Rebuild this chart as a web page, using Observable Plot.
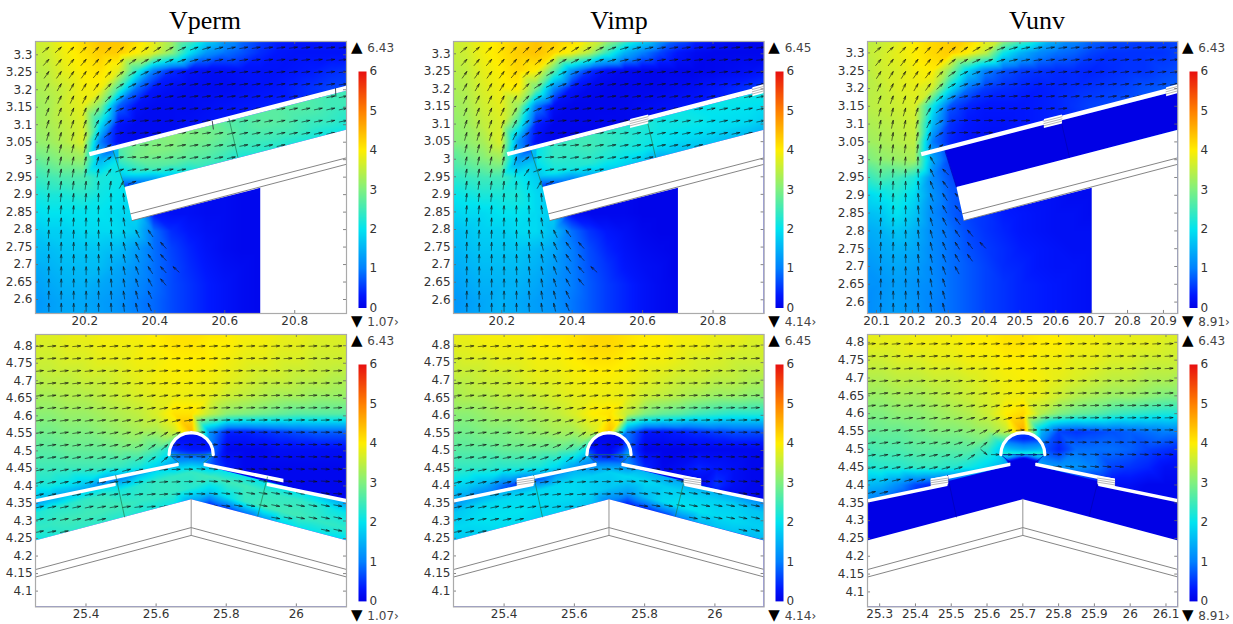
<!DOCTYPE html>
<html><head><meta charset="utf-8">
<script src="https://cdn.jsdelivr.net/npm/d3@7"></script>
<script src="https://cdn.jsdelivr.net/npm/@observablehq/plot@0.6"></script>
<style>
html,body{margin:0;padding:0;background:#fff}
#page{position:relative;width:1233px;height:624px;overflow:hidden}
#page>svg{position:absolute;background:transparent;overflow:visible}
.t{position:absolute;font-family:"Liberation Serif",serif;font-size:26px;color:#000;transform:translateX(-50%);line-height:30px}
.m{position:absolute;font-family:"DejaVu Sans",sans-serif;font-size:12px;color:#444;white-space:nowrap;line-height:14px}
.m b{font-weight:normal;color:#000;font-size:15px;margin-right:1px}
</style></head><body><div id="page"></div>
<script>
const n = null;
const titles = ["Vperm","Vimp","Vunv"];
const maxLabels = [["6.43","1.07"],["6.45","4.14"],["6.43","8.91"],["6.43","1.07"],["6.45","4.14"],["6.43","8.91"]];
const colorStops = [0,0.33,1,2,3,4,5,6];
const colorRange = ["#0000e6","#0018ff","#0080ff","#00e4f0","#80f080","#ffee00","#ff8000","#e81010"];
const barTicks = [0,1,2,3,4,5,6];
const topYTicks = [3.3,3.25,3.2,3.15,3.1,3.05,3,2.95,2.9,2.85,2.8,2.75,2.7,2.65,2.6];
const lowYTicks = [4.8,4.75,4.7,4.65,4.6,4.55,4.5,4.45,4.4,4.35,4.3,4.25,4.2,4.15,4.1];
const xTicks2 = [20.2,20.4,20.6,20.8];
const xTicks1 = [20.1,20.2,20.3,20.4,20.5,20.6,20.7,20.8,20.9];
const xTicksL2 = [25.4,25.6,25.8,26];
const xTicksL1 = [25.3,25.4,25.5,25.6,25.7,25.8,25.9,26,26.1];

// outer air speed, top row views
const topXs = [20.05,20.1,20.15,20.2,20.25,20.3,20.35,20.4,20.45,20.5,20.55,20.6,20.65,20.7,20.75,20.8,20.85,20.9,20.95];
const topYs = [3.35,3.3,3.25,3.2,3.15,3.1,3.05,3,2.95,2.9,2.85,2.8,2.75,2.7,2.65,2.6,2.55];
const vpermTop = [
[3.7,3.7,4,4.2,4.4,4.4,4.2,3.9,3.4,2.8,2.1,1.4,.9,.6,.4,.3,.3,.3,.3],
[3.5,3.6,3.9,4.1,4.3,4.3,4,3.7,3.1,2,1.2,.9,.7,.45,.3,.25,.25,.25,.25],
[3.4,3.5,3.8,4,4.1,3.8,2.4,1,.45,.25,.2,.2,.25,.25,.25,.3,.35,.45,.5],
[3.3,3.4,3.6,3.9,3.9,2.6,.9,.3,.2,.15,.15,.15,.2,.25,.3,.4,.5,.6,.6],
[3.2,3.3,3.6,3.8,3,.8,.25,.15,.15,.15,.2,.25,.3,.35,.4,.4,.4,.4,.4],
[3.2,3.3,3.5,3.7,2,.3,.15,.15,.15,.2,.25,.3,.3,.3,.3,.3,.3,.3,.3],
[3.1,3.2,3.4,3.7,1,.2,.15,.15,.2,.2,.2,.2,.2],
[2.7,2.9,3.1,3.2,1.5,2,2,2,2],
[2.4,2.5,2.6,2.6,2.2,2.1,2,2],
[2.1,2.2,2.2,2.3,2.1,2,1.9,.2,.2,.2,.15,.15,.1,.1,.1],
[1.9,2,2,2,2,1.9,1.9,.3,.2,.2,.15,.15,.1,.1,.1],
[1.7,1.8,1.8,1.9,1.9,1.9,1.7,.9,.45,.3,.2,.15,.1,.1,.1],
[1.6,1.6,1.7,1.7,1.7,1.6,1.3,.9,.6,.4,.25,.15,.1,.1,.1],
[1.4,1.5,1.6,1.6,1.6,1.4,1.2,.9,.65,.45,.3,.2,.15,.1,.1],
[1.3,1.4,1.5,1.5,1.4,1.3,1.1,.9,.65,.5,.35,.25,.15,.1,.1],
[1.2,1.3,1.4,1.4,1.3,1.2,1,.85,.65,.5,.35,.25,.15,.1,.1],
[1.2,1.3,1.4,1.4,1.3,1.2,1,.85,.65,.5,.35,.25,.15,.1,.1]];
const vimpTop = [
[3.7,3.7,3.9,4.1,4.2,4.4,4.4,4.3,4,3.6,3,2.3,1.5,.9,.5,.3,.15,.1,.1],
[3.5,3.6,3.9,4.1,4.3,4.4,4.2,3.9,3.4,2.4,1.5,1,.6,.3,.15,.1,.1,.1,.1],
[3.4,3.5,3.8,4,4.2,4,2.7,1.2,.5,.2,.12,.08,.08,.08,.08,.1,.15,.2,.3],
[3.3,3.4,3.7,3.9,4,2.9,1.1,.3,.12,.08,.08,.08,.1,.15,.2,.3,.4,.5,.6],
[3.2,3.3,3.6,3.8,3.2,1,.2,.08,.08,.08,.1,.15,.2,.25,.3,.4,.4,.4,.4],
[3.1,3.2,3.5,3.7,2.4,.4,.08,.08,.08,.1,.1,.15,.2,.2,.2,.2,.2,.2,.2],
[3,3.1,3.3,3.7,1.2,.2,.08,.05,.05,.05,.1,.1,.1],
[2.6,2.8,3,3.2,1.3,1.6,1.6,1.5,1.5],
[2.3,2.4,2.5,2.5,2.1,1.8,1.6,1.6],
[2,2.1,2.2,2.2,2.2,1.9,1.7,.1,.1,.1,.1,.05,.05,.05,.05],
[1.8,1.9,1.9,2,2,1.9,1.8,.2,.1,.1,.1,.05,.05,.05,.05],
[1.6,1.7,1.8,1.8,1.9,1.9,1.6,.9,.5,.3,.2,.1,.05,.05,.05],
[1.5,1.6,1.7,1.7,1.7,1.6,1.4,1,.65,.4,.25,.15,.1,.05,.05],
[1.4,1.5,1.6,1.6,1.6,1.5,1.3,1,.7,.5,.3,.2,.15,.05,.05],
[1.3,1.4,1.5,1.5,1.5,1.4,1.2,1,.75,.55,.4,.25,.15,.08,.05],
[1.2,1.3,1.4,1.5,1.4,1.3,1.2,.95,.75,.55,.4,.25,.15,.08,.05],
[1.2,1.3,1.4,1.5,1.4,1.3,1.2,.95,.75,.55,.4,.25,.15,.08,.05]];
const vunvTop = [
[3.5,3.5,3.7,4,4.2,4.3,4.3,4,3.7,3.1,2.4,1.7,1.2,.9,.7,.7,.6,.6,.6],
[3.5,3.6,3.8,4,4.2,4.3,4,3.5,2.1,1.5,1.1,.9,.8,.6,.5,.5,.5,.5,.6],
[3.4,3.6,3.7,3.9,4,3.1,1.8,1,.7,.55,.5,.45,.45,.4,.45,.5,.5,.6,.65],
[3.4,3.5,3.7,3.8,3.6,2,.9,.55,.45,.4,.35,.4,.45,.5,.55,.6,.7,.75,.8],
[3.4,3.5,3.6,3.7,2.1,.7,.4,.3,.3,.3,.35,.4,.5,.6,.65,.7,.75,.8,.8],
[3.3,3.4,3.5,3.6,1.6,.5,.3,.25,.25,.3,.35,.4,.45,.5,.6,.6,.7,.7,.7],
[3.2,3.3,3.4,3.5,1,.4,.25,.2,.2,.2,.25,.3,.3],
[2.9,3.1,3.2,3.3,1.4,.6,.3,.2,.15],
[2.3,2.6,2.5,2.2,1.1,.7,.5,.3],
[1.8,2,2.2,1.9,1.2,.8,.6,.4,.3,.2,.2,.2,.15,.15,.15],
[1.6,1.7,2,1.7,1.1,.8,.6,.5,.35,.3,.25,.2,.2,.15,.15],
[1.4,1.5,1.7,1.5,1.1,.9,.65,.5,.4,.3,.25,.2,.2,.2,.2],
[1.3,1.4,1.5,1.4,1.1,.9,.7,.55,.45,.35,.3,.25,.2,.2,.2],
[1.2,1.3,1.4,1.3,1.1,.9,.75,.6,.45,.4,.3,.25,.25,.2,.2],
[1.2,1.2,1.3,1.2,1.1,.9,.75,.6,.5,.4,.35,.3,.25,.2,.2],
[1.1,1.2,1.3,1.2,1.05,.9,.75,.6,.5,.4,.35,.3,.25,.2,.2],
[1.1,1.2,1.3,1.2,1.05,.9,.75,.6,.5,.4,.35,.3,.25,.2,.2]];

// flow between deck and roof, top row views: rows run from the roof up to the deck
const cavTopXs = [20.3,20.35,20.4,20.45,20.5,20.55,20.6,20.65,20.7,20.75,20.8,20.85,20.9,20.95];
const cavFracs = [-.1,.3,.7,1.05];
const vpermCavT = [
[.2,.3,.8,1.5,2,2.3,2.3,2.1,2.2,2.2,2.1,2.1,2,2],
[1.6,2.2,2.6,2.7,2.7,2.7,2.6,2.5,2.5,2.5,2.5,2.4,2.4,2.3],
[2.4,2.9,3,3,2.9,2.9,2.8,2.6,2.7,2.7,2.6,2.6,2.5,2.5],
[2.6,2.9,3,3.1,3,2.9,2.7,2.6,2.7,2.7,2.7,2.6,2.5,2.5]];
const vimpCavT = [
[.2,.2,.6,1.2,1.6,1.7,1.6,1.3,1.5,1.6,1.6,1.5,1.5,1.4],
[1.6,2.1,2.2,2.3,2.2,2.1,2.1,2,1.9,1.9,1.9,1.9,1.9,1.8],
[2,2.4,2.4,2.5,2.4,2.3,2.2,2.1,2.1,2.1,2,2,2,2],
[2,2.4,2.5,2.5,2.4,2.3,2.3,2.1,2.1,2,2.1,2.1,2.1,2.2]];
const vunvCavT = [
[0,0,0,0,0,0,0,0,0,0,0,0,0,0],[0,0,0,0,0,0,0,0,0,0,0,0,0,0],
[0,0,0,0,0,0,0,0,0,0,0,0,0,0],[0,0,0,0,0,0,0,0,0,0,0,0,0,0]];

// outer air speed, bottom row views
const lowXs = [25.25,25.3,25.35,25.4,25.45,25.5,25.55,25.6,25.65,25.7,25.75,25.8,25.85,25.9,25.95,26,26.05,26.1,26.15];
const lowYs = [4.85,4.8,4.75,4.7,4.65,4.6,4.55,4.5,4.45,4.4,4.35,4.3];
const vpermLow = [
[3.7,3.8,3.8,3.9,3.9,3.9,4,4,4.1,4.1,4.1,4,4,3.9,3.9,3.8,3.8,3.7,3.7],
[3.7,3.7,3.8,3.8,3.9,3.9,3.9,4,4.1,4.1,4,4,3.9,3.9,3.8,3.8,3.7,3.7,3.7],
[3.6,3.6,3.7,3.7,3.8,3.8,3.9,3.9,4,4,4,3.9,3.8,3.8,3.7,3.7,3.6,3.6,3.6],
[3.4,3.5,3.5,3.6,3.6,3.7,3.8,3.9,3.95,3.95,3.9,3.8,3.7,3.6,3.6,3.5,3.5,3.4,3.4],
[3.3,3.3,3.4,3.4,3.5,3.6,3.7,3.8,3.85,3.85,3.8,3.6,3.5,3.4,3.3,3.3,3.2,3.2,3.2],
[3.1,3.1,3.2,3.2,3.3,3.4,3.5,3.7,4.1,4.1,3.5,3.1,3,2.9,2.8,2.7,2.7,2.7,2.7],
[2.9,2.9,3,3,3.1,3.2,3.3,3.3,3.6,4.5,1.2,.4,.4,.5,.6,.7,.8,.8,.8],
[2.7,2.7,2.8,2.8,2.8,2.9,2.9,2.6,2,.3,1,.1,.1,.1,.2,.2,.2,.2,.2],
[2.5,2.5,2.5,2.5,2.5,2.4,2.2,1.8,1.2,.8,.8,.3,.1,.1,.1,.1,.1,.1,.1],
[2.2,2.2,2,1.7,1,.6,.5,.4,.4,.4,.3,.2,.1,.1,.1,.1,.1,.1,.1],
[1.8,1.4,.8,.5,.4,.3,.3,.3,.3,.3,.3,.2,.1,.1,.1,.1,.1,.1,.1],
[1.5,1,.5,.3,.3,.3,.3,.3,.3,.3,.3,.2,.1,.1,.1,.1,.1,.1,.1]];
const vimpLow = [
[3.9,3.9,4,4,4,4,4.1,4.1,4.2,4.2,4.1,4.1,4,4,3.9,3.9,3.8,3.8,3.8],
[3.8,3.8,3.9,3.9,3.9,4,4,4.1,4.2,4.2,4.1,4,4,3.9,3.9,3.8,3.8,3.7,3.7],
[3.6,3.7,3.7,3.8,3.8,3.9,3.9,4,4.1,4.1,4,3.9,3.9,3.8,3.7,3.7,3.6,3.6,3.6],
[3.5,3.5,3.6,3.6,3.7,3.8,3.8,3.9,3.95,3.95,3.9,3.8,3.7,3.6,3.6,3.5,3.5,3.4,3.4],
[3.3,3.4,3.4,3.5,3.5,3.6,3.7,3.8,3.85,3.85,3.8,3.6,3.5,3.4,3.3,3.2,3.2,3.1,3.1],
[3.1,3.1,3.2,3.3,3.3,3.4,3.5,3.7,4,4.1,3.5,3,2.8,2.7,2.5,2.4,2.3,2.3,2.3],
[2.9,2.9,3,3,3.1,3.2,3.3,3.3,3.6,4.4,1,.3,.3,.4,.5,.6,.7,.7,.7],
[2.7,2.7,2.7,2.8,2.8,2.8,2.8,2.6,1.8,.2,.8,.05,.05,.05,.1,.1,.1,.1,.1],
[2.4,2.4,2.4,2.3,2.3,2.2,1.9,1.3,.8,.5,1.2,.4,.1,.2,.4,.3,.2,.1,.1],
[1.9,1.8,1.5,.9,.4,.2,.2,.2,.2,.2,.2,.2,.2,.1,.1,.5,.2,.1,.1],
[1.5,1.2,.5,.2,.2,.2,.2,.2,.2,.2,.2,.2,.1,.1,.1,.1,.1,.1,.1],
[1.2,.8,.3,.2,.2,.2,.2,.2,.2,.2,.2,.2,.1,.1,.1,.1,.1,.1,.1]];
const vunvLow = [
[3.8,3.8,3.9,3.9,3.9,4,4,4,4.1,4.1,4,4,3.9,3.9,3.9,3.8,3.8,3.8,3.8],
[3.8,3.8,3.8,3.9,3.9,3.9,4,4,4.1,4.1,4,4,3.9,3.9,3.8,3.8,3.8,3.7,3.7],
[3.6,3.6,3.7,3.7,3.8,3.8,3.9,3.9,4,4,3.9,3.9,3.8,3.8,3.7,3.7,3.6,3.6,3.6],
[3.4,3.4,3.5,3.5,3.6,3.6,3.7,3.8,3.9,3.95,3.9,3.8,3.7,3.6,3.5,3.5,3.4,3.4,3.3],
[3.2,3.2,3.3,3.3,3.4,3.5,3.6,3.7,3.85,3.9,3.8,3.6,3.4,3.3,3.2,3.2,3.1,3,3],
[3,3,3.1,3.1,3.2,3.3,3.4,3.6,4,4.2,3.4,3,2.8,2.7,2.5,2.4,2.3,2.2,2.2],
[2.8,2.8,2.8,2.9,3,3,3.1,3.2,3.5,4.6,1.5,.6,.5,.6,.7,.8,.9,1,1],
[2.5,2.6,2.6,2.7,2.7,2.7,2.7,2.4,1.5,.6,.8,.4,.9,.9,.9,.8,.6,.5,.4],
[2.2,2.3,2.3,2.4,2.4,2.3,2.1,1.8,1.4,1,1.4,1.2,1.2,1,.6,.5,.4,.2,.2],
[1.6,1.5,1.1,.6,.4,.2,.2,.2,.2,.2,.2,.2,.2,.2,.2,.2,.1,.1,.1],
[1.2,.8,.4,.2,.1,.1,.1,.1,.1,.1,.1,.1,.1,.1,.1,.1,.1,.1,.1],
[1,.5,.2,.1,.1,.1,.1,.1,.1,.1,.1,.1,.1,.1,.1,.1,.1,.1,.1]];

// flow between deck and roof, bottom row views
const vpermCavL = [
[1.9,2.1,2.3,2.3,2.3,2.2,2.2,2.1,2,1.2,.1,.1,.4,1,1.7,1.9,1.9,1.8,1.7],
[2.4,2.4,2.5,2.5,2.5,2.5,2.4,2.4,2.4,2.3,1.7,2,2.4,2.5,2.5,2.5,2.4,2.4,2.3],
[2.2,2.3,2.3,2.4,2.4,2.2,2.3,2.4,2.4,2.4,2.5,2.5,2.5,2.4,2.4,2.4,2.3,2.1,2],
[1,1.2,1.4,1.5,1.6,1,1.5,1.7,1.3,1,1.3,1.8,1.9,1.8,1.8,1.7,1.6,1.3,1]];
const vimpCavL = [
[1.5,1.7,1.8,1.9,1.9,1.8,1.8,1.7,1.6,.9,.05,.05,.2,.8,1.4,1.6,1.6,1.5,1.4],
[1.9,1.9,2,2,2,1.9,1.9,1.9,1.8,1.7,1.3,1.6,1.9,2,2,1.9,1.9,1.8,1.8],
[1.7,1.8,1.9,1.9,1.9,1.9,1.9,1.9,1.8,1.8,1.9,1.9,1.8,1.8,1.8,1.8,1.8,1.7,1.7],
[1,1.2,1.3,1.3,1,.5,1.2,1.4,.9,.5,.9,1.4,1.3,1.2,1.2,1.3,1.2,1,.9]];
const vunvCavL = [
[0,0,0,0,0,0,0,0,0,0,0,0,0,0,0,0,0,0,0],[0,0,0,0,0,0,0,0,0,0,0,0,0,0,0,0,0,0,0],
[0,0,0,0,0,0,0,0,0,0,0,0,0,0,0,0,0,0,0],[0,0,0,0,0,0,0,0,0,0,0,0,0,0,0,0,0,0,0]];
// inside the ridge cap
const capXs = [25.63,25.665,25.7,25.735,25.77];
const capYs = [4.488,4.5,4.53,4.56];
const vpermCap = [[1.2,.8,.6,.7,1.2],[.6,.4,.3,.3,.4],[.3,.2,.2,.2,.3],[.3,.2,.2,.2,.3]];
const vimpCap = [[1,.3,.2,.8,2],[.6,.2,.1,.5,1.5],[.2,.1,.1,.1,.2],[.1,.1,.1,.1,.1]];
const vunvCap = [[2.4,2.3,2.2,2.3,2.4],[2,1.6,1.4,1.5,1.8],[.9,.6,.4,.5,.9],[.8,.7,.6,.7,.8]];

// arrow directions in degrees, counter-clockwise from +x
const arrowsTopAB = [
[40,42,44,45,46,45,42,38,35,32,28,25,20,16,14,12,10,9,8,7,7,7,6,6,6],
[48,50,50,50,48,45,40,35,30,26,22,18,15,13,11,10,9,8,8,7,7,7,6,6,6],
[55,55,55,54,50,45,38,30,25,20,16,14,12,10,9,8,8,8,8,7,7,7,7,7,7],
[60,60,60,58,54,45,33,25,20,15,13,11,10,9,8,8,8,8,8,8,8,8,8,8,8],
[65,65,65,64,58,45,30,20,14,12,10,9,8,8,8,8,9,9,9,9,9,9,10,12,12],
[68,68,68,66,60,42,22,13,10,8,8,8,8,8,9,10,10,10,10,11,12,12,12,12,12],
[72,72,71,69,62,40,15,8,6,6,7,8,8,8,9,10,11,12,12,12,12,12,12,12,12],
[74,74,74,72,64,35,10,5,5,6,6,7,8,9,12,13,12,12,12,12,12,12,12,12,12],
[76,76,76,75,68,30,8,5,5,7,10,10,10,11,11,11,11,12,12,12,12],
[78,78,78,77,75,35,8,4,6,10,10,10,11,11,11,11],
[80,80,80,80,80,55,20,10,8,10,10,10],
[82,82,82,83,86,80,60,20],
[84,84,84,85,88,90,95],
[85,85,86,87,88,92,98],
[86,86,87,88,90,94,100],
[87,87,88,89,91,95,102,115,125],
[88,88,88,90,92,96,104,115,125,132],
[88,88,89,90,92,96,103,113,125,133],
[89,89,89,90,92,96,102,110,122,132,138],
[89,89,90,90,92,95,100,108,118,130],
[89,89,90,90,91,94,99,105,115],
[90,90,90,90,91,93,97,103,112]];
const arrowsTopC = [
[40,42,45,46,47,47,42,36,30,26,20,16,12,10,8,8,7,7,6,6,6,6,6,6,6],
[50,52,52,52,50,46,38,30,24,20,16,13,11,9,8,8,7,7,7,7,7,6,6,6,6],
[58,58,58,55,52,44,35,26,20,15,12,10,9,8,8,7,7,7,7,7,7,7,7,7,7],
[64,64,64,60,54,42,30,20,14,10,8,7,7,7,7,7,7,7,7,7,8,8,8,8,8],
[70,70,70,66,56,38,22,12,8,6,5,5,5,5,6,6,7,7,7,8,8,8],
[75,75,74,70,60,35,15,6,3,3,3,4,4,5,5,6],
[78,78,78,74,64,30,8,2,1,2,2,3,3],
[80,80,80,78,68,30,5,0,1,2],
[82,82,82,82,75,35],
[84,84,85,88,120],
[85,86,88,92,115,135],
[86,87,89,95,112,128],
[86,87,90,96,110,122,135],
[87,88,90,96,108,118,130],
[87,88,90,96,106,116,126],
[87,88,91,96,105,114,124,130],
[88,88,91,96,104,113,122,128,134],
[88,89,91,96,103,112,120,126],
[89,89,91,95,102,110,118],
[89,89,91,95,101,108],
[89,90,91,94,100,106],
[89,90,91,93,98,104]];
const arrowsLowAB = [
[5,5,5,5,5,5,5,5,4,4,4,4,4,4,4,4,4,3,3,3,3,3,3,3,3],
[5,5,5,5,5,5,5,5,5,5,5,4,4,4,4,4,3,3,3,3,3,3,3,3,3],
[6,6,6,6,6,6,6,6,6,6,5,5,4,4,4,3,3,3,3,3,3,3,3,3,3],
[6,6,6,6,6,6,6,7,7,7,7,6,5,4,4,4,3,3,3,3,3,3,3,3,3],
[7,7,7,7,7,7,7,8,8,9,9,8,6,4,4,3,3,3,3,3,3,3,3,3,3],
[7,7,7,7,8,8,8,9,10,11,11,10,7,5,4,3,3,3,3,3,3,3,3,3,3],
[8,8,8,8,9,9,10,11,13,15,17,14,8,3,2,2,2,2,2,2,2,2,2,2,2],
[8,8,8,9,9,10,12,14,18,24,32,20,3,0,0,0,0,0,0,0,0,0,0,0,0],
[9,9,9,10,10,11,13,16,22,35,40,5,0,-1,-1,-1,-1,-1,-1,-1,-1,-1,-1,-1,-1],
[10,10,10,11,11,12,14,18,28,35,40,-2,0,-2,-3,-2,-2,-2,-2,-2,-2,-2,-2,-2,-2],
[12,12,12,12,13,13,14,15,15,6,5,2,-1,-4,-5,-5,-4,-3,-3,-3,-3,-3,-3,-3,-3],
[13,13,13,13,13,10,9,8,7,6,5,3,0,-2,-4,-6,-7,-8,-8,-8,-4,-4,-4,-4,-4],
[13,14,11,11,10,10,9,8,7,6,5,3,0,-2,-5,-7,-9,-10,-10,-10,-10,-10,-10,-9,-3],
[12,12,12,12,12,11,10,9,8,6,5,3,0,-3,-5,-7,-9,-10,-11,-11,-11,-11,-11,-11,-10],
[12,12,12,12,12,12,n,n,n,n,n,n,n,n,n,n,n,n,n,-10,-11,-11,-11,-12,-12],
[11,11,11,n,n,n,n,n,n,n,n,n,n,n,n,n,n,n,n,n,n,n,n,-12,-12]];
const arrowsLowC = [
[4,4,4,4,4,4,4,4,4,4,4,4,4,4,4,4,3,3,3,3,3,3,3,3,3],
[4,5,5,5,5,5,5,5,5,5,4,4,4,4,4,4,3,3,3,3,3,3,3,3,3],
[5,5,5,5,5,5,6,6,6,6,5,5,4,4,4,3,3,3,3,3,3,3,3,3,3],
[6,6,6,6,6,6,6,7,7,7,7,6,4,4,4,3,3,3,3,3,3,3,3,3,3],
[7,7,7,7,7,7,8,8,9,9,9,8,5,4,4,3,3,3,3,3,3,3,3,3,3],
[7,7,7,8,8,8,9,9,10,12,12,10,6,4,3,3,3,3,3,3,3,3,3,3,3],
[8,8,8,9,9,10,10,12,14,18,20,14,6,2,2,2,2,2,2,2,2,2,2,2,2],
[8,9,9,9,10,11,12,14,18,28,36,18,3,0,0,0,0,0,0,0,0,0,0,0,0],
[9,9,10,10,11,12,13,17,25,40,n,n,n,n,-1,-1,-1,-1,-1,-1,-1,-1,-1,-1,-1],
[10,10,11,11,12,13,15,20,35,-40,0,0,0,0,-2,-4,-4,-4,-3,-3,-3,-3,-3,-3,-3],
[12,12,12,13,13,14,15,16,n,n,n,n,n,n,n,-5,-6,-6,-5,-5,-5,n,n,n,n],
[13,13,13,14,15,n,n,n,n,n,n,n,n,n,n,n,n,n,n,n,n,n,n,n,n],
[14,14,n,n,n,n,n,n,n,n,n,n,n,n,n,n,n,n,n,n,n,n,n,n,n]];

// geometry of the building in metres (views share it)
const topSolid = [[20.318,2.923],[20.95,3.086],[20.95,2.56],[20.7,2.56],[20.7,2.921],[20.339,2.829]];
const topDeck = [[20.217,3.021],[20.95,3.21],[20.95,3.196],[20.22,3.01]];
const topGrayA = [[20.335,2.848],[20.95,3.007]];
const topGrayB = [[20.339,2.829],[20.95,2.989]];
const topCavClip = [[20.286,3.027],[20.95,3.196],[20.95,3.086],[20.318,2.923]];
const topIfaces = [[[20.286,3.024],[20.318,2.923]],[[20.612,3.115],[20.637,3.007]]];
const topVents = [[[20.565,3.114],[20.616,3.127],[20.616,3.102],[20.565,3.089]],[[20.91,3.2035],[20.96,3.217],[20.96,3.192],[20.91,3.178]]];
const topTicks = [[[20.565,3.108],[20.568,3.086]],[[20.912,3.2],[20.913,3.178]]];

const lowSolid = [[25.25,4.241],[25.698,4.36],[26.145,4.241],[26.145,4.05],[25.25,4.05]];
const lowDecks = [
[[25.25,4.358],[25.486,4.407],[25.486,4.397],[25.25,4.348]],
[[25.439,4.417],[25.663,4.463],[25.663,4.453],[25.439,4.407]],
[[25.733,4.463],[25.957,4.417],[25.957,4.407],[25.733,4.453]],
[[25.91,4.407],[26.146,4.358],[26.146,4.348],[25.91,4.397]]];
const lowGrayA = [[25.25,4.159],[25.698,4.28],[26.146,4.159]];
const lowGrayB = [[25.25,4.138],[25.698,4.258],[26.146,4.138]];
const lowGrayC = [[25.698,4.36],[25.698,4.258]];
const capArc = [[25.76,4.485],[25.758,4.501],[25.752,4.516],[25.742,4.529],[25.729,4.539],[25.714,4.545],[25.698,4.547],[25.682,4.545],[25.667,4.539],[25.654,4.529],[25.644,4.516],[25.638,4.501],[25.636,4.485]];
const lowCavClip = [[25.25,4.241],[25.25,4.35],[25.663,4.455],[25.636,4.485],[25.638,4.501],[25.644,4.516],[25.654,4.529],[25.667,4.539],[25.682,4.545],[25.698,4.547],[25.714,4.545],[25.729,4.539],[25.742,4.529],[25.752,4.516],[25.758,4.501],[25.76,4.485],[25.733,4.455],[26.146,4.35],[26.146,4.241],[25.698,4.36]];
const lowIfaces = [[[25.486,4.427],[25.511,4.31]],[[25.912,4.422],[25.885,4.313]],[[25.636,4.485],[25.663,4.463]],[[25.76,4.485],[25.733,4.463]],[[25.636,4.485],[25.76,4.485]]];
const lowVents = [[[25.439,4.418],[25.488,4.425],[25.488,4.402],[25.439,4.394]],[[25.908,4.425],[25.957,4.418],[25.957,4.394],[25.908,4.402]]];

const colorOpt = {type:"linear",domain:colorStops,range:colorRange,clamp:true};
const axisFont = {fontFamily:"DejaVu Sans",fontSize:12,fill:"#333"};
const page = document.getElementById("page");
const thinArrow = {draw(ctx,l){ctx.moveTo(0,0);ctx.lineTo(0,-l);ctx.moveTo(-.9,-l+3.2);ctx.lineTo(0,-l);ctx.lineTo(.9,-l+3.2);}};

function gridPoints(xs,ys,m){const o=[];m.forEach((row,j)=>row.forEach((v,i)=>{if(v!=null)o.push({x:xs[i],y:ys[j],v});}));return o;}
function arrowPoints(m,x0,dx,y0,dy){const o=[];m.forEach((row,j)=>row.forEach((a,i)=>{if(a!=null)o.push({x:x0+dx*i,y:y0+dy*j,a});}));return o;}

function panel(c){
  const X=d3.scaleLinear(c.ref[0],c.dom[0]), Y=d3.scaleLinear(c.ref[1],c.dom[1]);
  const m=c.low;
  const xv=(d)=>X(d[0]), yv=(d)=>Y(d[1]);
  const poly=(p,o={})=>Plot.line(p,{x:xv,y:yv,fill:"white",stroke:"none",clip:"frame",...o});
  const ln=(p,s,w)=>Plot.line(p,{x:xv,y:yv,stroke:s,strokeWidth:w,clip:"frame"});
  const clipId="cav"+c.id;
  const clipPts=m?lowCavClip:topCavClip;
  const cavRender=(i,s,v,d,ctx,next)=>{
    const g=next(i,s,v,d,ctx);
    const ns="http://www.w3.org/2000/svg";
    const cp=document.createElementNS(ns,"clipPath");cp.setAttribute("id",clipId);
    const pa=document.createElementNS(ns,"path");
    pa.setAttribute("d","M"+clipPts.map(q=>s.x(X(q[0]))+","+s.y(Y(q[1]))).join("L")+"Z");
    cp.appendChild(pa);g.appendChild(cp);g.setAttribute("clip-path",`url(#${clipId})`);return g;};
  const outer=gridPoints(m?lowXs:topXs,m?lowYs:topYs,c.field);
  let cav=[];
  if(m){
    const roof=x=>4.36-.2654*Math.abs(x-25.698);
    c.cav.forEach((row,j)=>row.forEach((v,i)=>cav.push({x:lowXs[i],y:roof(lowXs[i])+cavFracs[j]*.11,v})));
    cav=cav.concat(gridPoints(capXs,capYs,c.cap));
  }else{
    const roof=x=>2.923+.2576*(x-20.318);
    c.cav.forEach((row,j)=>row.forEach((v,i)=>cav.push({x:cavTopXs[i],y:roof(cavTopXs[i])+cavFracs[j]*.11,v})));
  }
  const arrows=arrowPoints(c.arrows,...c.arrowGrid);
  const ifaceColor=c.col===2?"#0000b0":"#1f7a50";
  const marks=[
    Plot.raster(outer,{x:d=>X(d.x),y:d=>Y(d.y),fill:"v",interpolate:"barycentric"}),
    Plot.raster(cav,{x:d=>X(d.x),y:d=>Y(d.y),fill:"v",interpolate:"barycentric",render:cavRender}),
    Plot.vector(arrows,{x:d=>X(d.x),y:d=>Y(d.y),rotate:d=>90-d.a,length:8,anchor:"end",shape:thinArrow,stroke:"#101010",strokeWidth:.7,strokeOpacity:.8,clip:"frame"})
  ];
  if(m){
    marks.push(poly(lowSolid));
    lowDecks.forEach(p=>marks.push(poly(p)));
    marks.push(ln(lowGrayA,"#777",.9),ln(lowGrayB,"#777",.9),ln(lowGrayC,"#888",.9));
    lowIfaces.forEach(p=>marks.push(ln(p,ifaceColor,.7)));
    marks.push(Plot.line(capArc,{x:xv,y:yv,stroke:"white",strokeWidth:3.2}));
    if(c.col>0) lowVents.forEach(p=>{
      marks.push(poly(p));
      [.25,.5,.75].forEach(f=>marks.push(ln([[p[0][0],p[3][1]+(p[0][1]-p[3][1])*f],[p[1][0],p[2][1]+(p[1][1]-p[2][1])*f]],"#999",.7)));
    });
  }else{
    marks.push(poly(topSolid),poly(topDeck),ln(topGrayA,"#777",.9),ln(topGrayB,"#777",.9));
    topIfaces.forEach(p=>marks.push(ln(p,ifaceColor,.7)));
    if(c.col>0) topVents.forEach(p=>{
      marks.push(poly(p));
      [.25,.5,.75].forEach(f=>marks.push(ln([[p[0][0],p[3][1]+(p[0][1]-p[3][1])*f],[p[1][0],p[2][1]+(p[1][1]-p[2][1])*f]],"#999",.7)));
    });
    else topTicks.forEach(p=>marks.push(ln(p,"#223",.8)));
  }
  const tx=.0085;
  const [x0,x1]=c.dom[0],[y0,y1]=c.dom[1];
  marks.push(
    Plot.ruleX(c.xt,{y1:y0,y2:y0+tx,stroke:"#666",strokeWidth:.8}),
    Plot.ruleX(c.xt,{y1:y1,y2:y1-tx,stroke:"#666",strokeWidth:.8}),
    Plot.ruleY(c.yt,{x1:x0,x2:x0+tx,stroke:"#666",strokeWidth:.8}),
    Plot.ruleY(c.yt,{x1:x1,x2:x1-tx,stroke:"#666",strokeWidth:.8}),
    Plot.frame({stroke:"#aaa",strokeWidth:1.2}),
    Plot.axisX(c.xt,{anchor:"bottom",tickSize:0,tickPadding:3,label:null,tickFormat:d=>String(d),...axisFont}),
    Plot.axisY(c.yt,{anchor:"left",tickSize:0,tickPadding:3,label:null,tickFormat:d=>String(d),...axisFont})
  );
  const w=c.w, h=c.h;
  const svg=Plot.plot({width:w+36,height:h+23,marginLeft:35,marginRight:1,marginTop:1,marginBottom:22,
    x:{domain:c.dom[0],axis:null},y:{domain:c.dom[1],axis:null},color:colorOpt,marks});
  svg.style.left=(c.left-35)+"px";svg.style.top=(c.top-1)+"px";
  page.appendChild(svg);

  // colour bar
  const barTop=c.top+30, barH=c.h-35.5;
  const bar=Plot.plot({width:24,height:barH+14,marginLeft:0,marginRight:16,marginTop:7,marginBottom:7,
    x:{domain:[0,1],axis:null},y:{domain:[0,6],axis:null},color:colorOpt,
    marks:[Plot.raster({fill:(a,b)=>b,x1:0,x2:1,y1:0,y2:6,width:1,height:Math.round(barH)}),
      Plot.axisY(barTicks,{anchor:"right",tickSize:0,tickPadding:3,label:null,tickFormat:d=>String(d),fontFamily:"DejaVu Sans",fontSize:12,fill:"#333"})]});
  bar.style.left=(c.left+c.w+12)+"px";bar.style.top=(barTop-7)+"px";
  page.appendChild(bar);

  const a=document.createElement("div");a.className="m";a.innerHTML="<b>▲</b> "+c.labels[0];
  a.style.left=(c.left+c.w+5)+"px";a.style.top=(c.top-1)+"px";page.appendChild(a);
  const b=document.createElement("div");b.className="m";b.innerHTML="<b>▼</b> "+c.labels[1]+"›";
  b.style.left=(c.left+c.w+5)+"px";b.style.top=(c.top+c.h+1)+"px";page.appendChild(b);
}

const refTop=[[20.067,20.943],[2.568,3.332]], refLow=[[25.261,26.134],[4.057,4.823]];
const left=[35,452.7,866.7], width=[311,310.6,310.3];
const gridT=[20.1046,.035,3.316,-.03426], gridL=[25.283,.0349,4.791,-.0347], gridLC=[25.283,.0349,4.7975,-.0347];
[
 {id:0,col:0,low:false,top:41,h:272,ref:refTop,dom:[[20.059,20.948],[2.56,3.338]],field:vpermTop,cav:vpermCavT,arrows:arrowsTopAB,arrowGrid:gridT,xt:xTicks2,yt:topYTicks},
 {id:1,col:1,low:false,top:41,h:272,ref:refTop,dom:[[20.063,20.945],[2.561,3.335]],field:vimpTop,cav:vimpCavT,arrows:arrowsTopAB,arrowGrid:gridT,xt:xTicks2,yt:topYTicks},
 {id:2,col:2,low:false,top:41,h:272,ref:refTop,dom:[[20.075,20.94],[2.568,3.332]],field:vunvTop,cav:vunvCavT,arrows:arrowsTopC,arrowGrid:gridT,xt:xTicks1,yt:topYTicks},
 {id:3,col:0,low:true,top:334.3,h:272.4,ref:refLow,dom:[[25.256,26.143],[4.055,4.832]],field:vpermLow,cav:vpermCavL,cap:vpermCap,arrows:arrowsLowAB,arrowGrid:gridL,xt:xTicksL2,yt:lowYTicks},
 {id:4,col:1,low:true,top:334.3,h:272.4,ref:refLow,dom:[[25.256,26.14],[4.055,4.83]],field:vimpLow,cav:vimpCavL,cap:vimpCap,arrows:arrowsLowAB,arrowGrid:gridL,xt:xTicksL2,yt:lowYTicks},
 {id:5,col:2,low:true,top:334.3,h:272.4,ref:refLow,dom:[[25.266,26.133],[4.058,4.822]],field:vunvLow,cav:vunvCavL,cap:vunvCap,arrows:arrowsLowC,arrowGrid:gridLC,xt:xTicksL1,yt:lowYTicks}
].forEach(c=>{c.left=left[c.col];c.w=width[c.col];c.labels=maxLabels[c.id];panel(c);});

titles.forEach((t,i)=>{const d=document.createElement("div");d.className="t";d.textContent=t;
  d.style.left=[205,619,1037][i]+"px";d.style.top="6px";page.appendChild(d);});
</script></body></html>
